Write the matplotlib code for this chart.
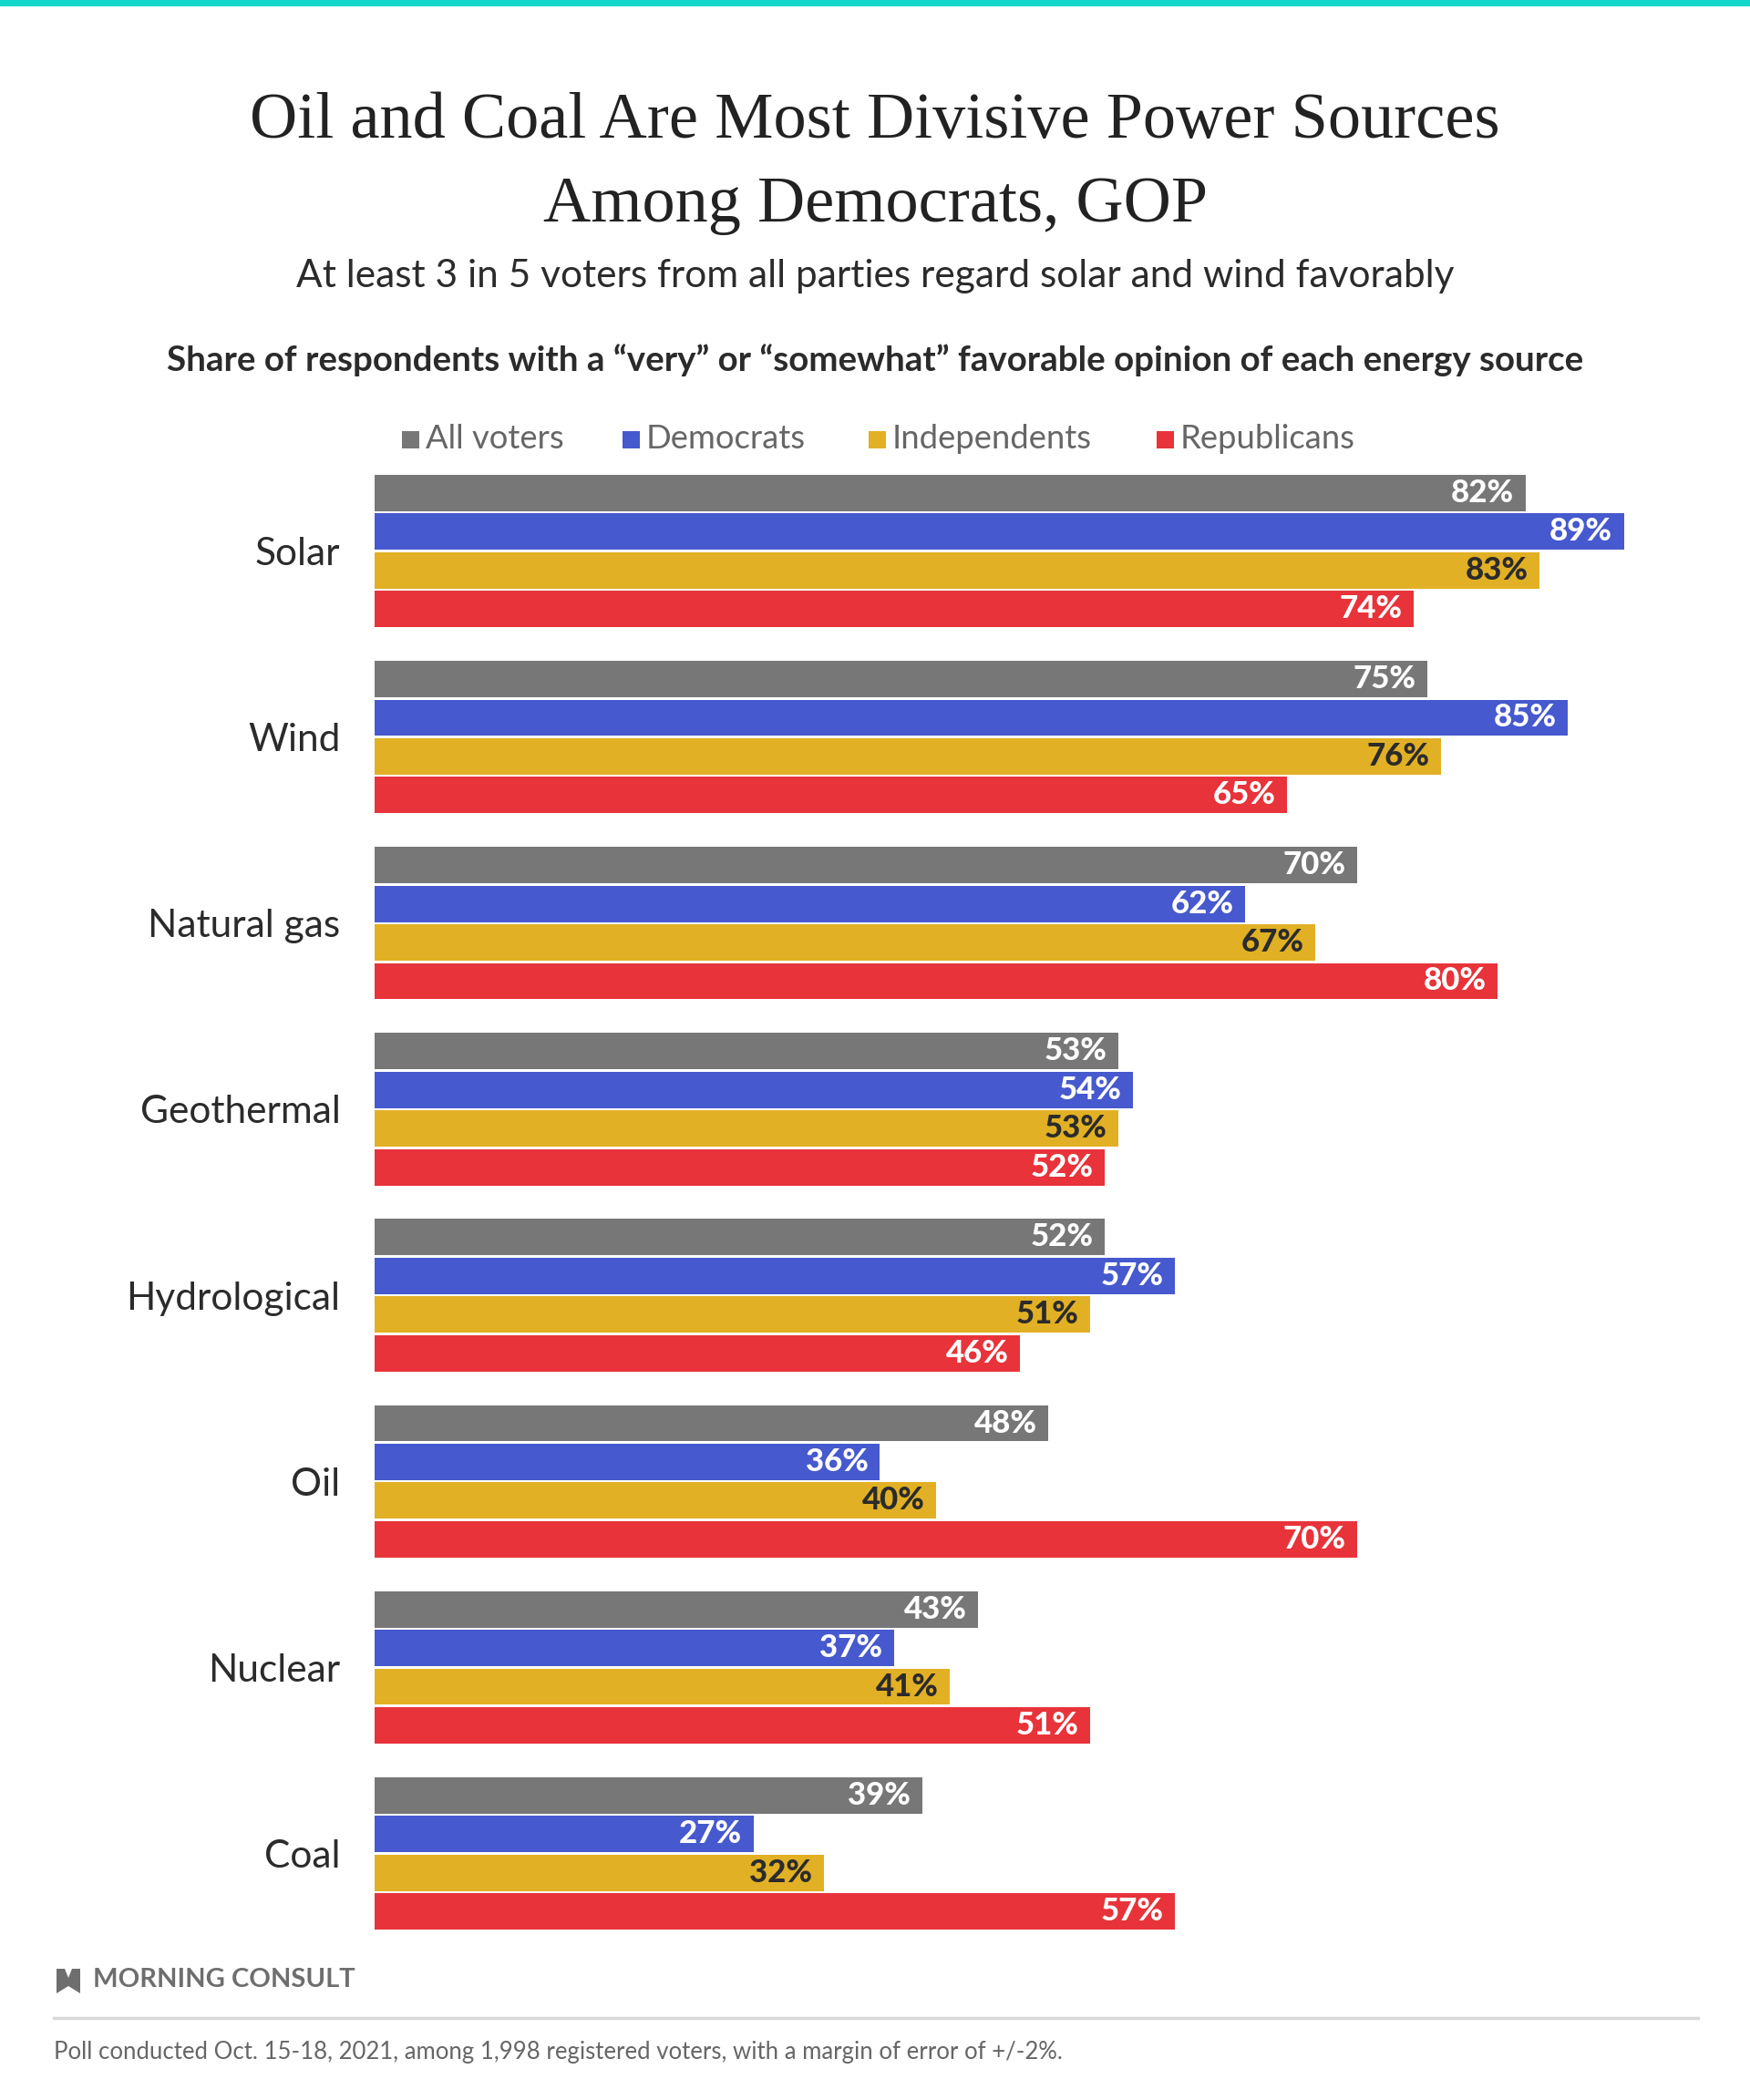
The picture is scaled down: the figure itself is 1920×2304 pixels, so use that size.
import matplotlib
matplotlib.use("Agg")
import matplotlib.pyplot as plt
import numpy as np
from matplotlib.patches import Rectangle, Polygon
from matplotlib.lines import Line2D

categories = ["Solar", "Wind", "Natural gas", "Geothermal", "Hydrological", "Oil", "Nuclear", "Coal"]
series_names = ["All voters", "Democrats", "Independents", "Republicans"]
all_voters = [82, 75, 70, 53, 52, 48, 43, 39]
democrats = [89, 85, 62, 54, 57, 36, 37, 27]
independents = [83, 76, 67, 53, 51, 40, 41, 32]
republicans = [74, 65, 80, 52, 46, 70, 51, 57]

colors = ["#777777", "#4659CE", "#E1B024", "#E8333A"]
label_colors = ["white", "white", "#2b2b2b", "white"]

W, H = 1920, 2304
fig = plt.figure(figsize=(W / 100, H / 100), dpi=100)
fig.patch.set_facecolor("white")

def fx(px):
    return px / W

def fy(py):
    return 1 - py / H

SANS = ["Lato", "DejaVu Sans"]
SERIF = ["Liberation Serif", "DejaVu Serif"]

# top teal band
fig.patches.append(Rectangle((0, fy(7)), 1, 7 / H, transform=fig.transFigure,
                             facecolor="#14D8CB", edgecolor="none"))

fig.text(0.5, fy(133), "Oil and Coal Are Most Divisive Power Sources", ha="center", va="center",
         family=SERIF, fontsize=52, color="#222222")
fig.text(0.5, fy(225), "Among Democrats, GOP", ha="center", va="center",
         family=SERIF, fontsize=52, color="#222222")
fig.text(0.5, fy(303), "At least 3 in 5 voters from all parties regard solar and wind favorably",
         ha="center", va="center", family=SANS, fontsize=30.5, color="#2b2b2b")
fig.text(0.5, fy(395), "Share of respondents with a \u201cvery\u201d or \u201csomewhat\u201d favorable opinion of each energy source",
         ha="center", va="center", family=SANS, fontsize=27.7, fontweight="bold", color="#2b2b2b")

# legend
leg_sq_x = [441, 683, 953, 1269]
for name, c, sx in zip(series_names, colors, leg_sq_x):
    fig.patches.append(Rectangle((fx(sx), fy(492)), 19 / W, 19 / H, transform=fig.transFigure,
                                 facecolor=c, edgecolor="none"))
    fig.text(fx(sx + 26), fy(482), name, ha="left", va="center", family=SANS,
             fontsize=26.2, color="#666666")

# axes
ax_left, ax_top, ax_bottom = 411, 521, 2117
ax = fig.add_axes([fx(ax_left), fy(ax_bottom), 1 - fx(ax_left), (ax_bottom - ax_top) / H])
px_per_pct = 15.4
ax.set_xlim(0, (W - ax_left) / px_per_pct)

group_pitch = 4.81
bar_h = 0.94
series = [all_voters, democrats, independents, republicans]
for i, (vals, c, lc) in enumerate(zip(series, colors, label_colors)):
    ys = np.arange(len(categories)) * group_pitch + i
    ax.barh(ys, vals, height=bar_h, color=c, edgecolor="none")
    for y, v in zip(ys, vals):
        ax.annotate(f"{v}%", (v, y), xytext=(-9, 0), textcoords="offset points",
                    ha="right", va="center", family=SANS, fontsize=25, fontweight=900, color=lc)

ax.set_ylim((len(categories) - 1) * group_pitch + 3 + bar_h / 2, -bar_h / 2)
ax.set_yticks(np.arange(len(categories)) * group_pitch + 1.5)
ax.set_yticklabels(categories, family=SANS, fontsize=30.5, color="#2b2b2b")
ax.tick_params(axis="y", length=0, pad=27)
ax.set_xticks([])
for s in ax.spines.values():
    s.set_visible(False)
ax.set_facecolor("none")

# logo
lx, ly = 62, 2160
logo = Polygon([[fx(lx), fy(ly)], [fx(lx + 9), fy(ly)], [fx(lx + 13), fy(ly + 10)],
                [fx(lx + 17), fy(ly)], [fx(lx + 26), fy(ly)], [fx(lx + 26), fy(ly + 27)],
                [fx(lx + 13), fy(ly + 19)], [fx(lx), fy(ly + 27)]],
               closed=True, transform=fig.transFigure, facecolor="#6e6e6e", edgecolor="none")
fig.patches.append(logo)
fig.text(fx(102), fy(2172), "MORNING CONSULT", ha="left", va="center", family=SANS,
         fontsize=21, fontweight="bold", color="#6e6e6e")

fig.lines.append(Line2D([fx(59), fx(1863)], [fy(2214), fy(2214)], transform=fig.transFigure,
                        color="#d9d9d9", linewidth=2.5))
fig.text(fx(59), fy(2252), "Poll conducted Oct. 15-18, 2021, among 1,998 registered voters, with a margin of error of +/-2%.",
         ha="left", va="center", family=SANS, fontsize=18.5, color="#666666")

fig.savefig("out.png", dpi=100, facecolor="white")
